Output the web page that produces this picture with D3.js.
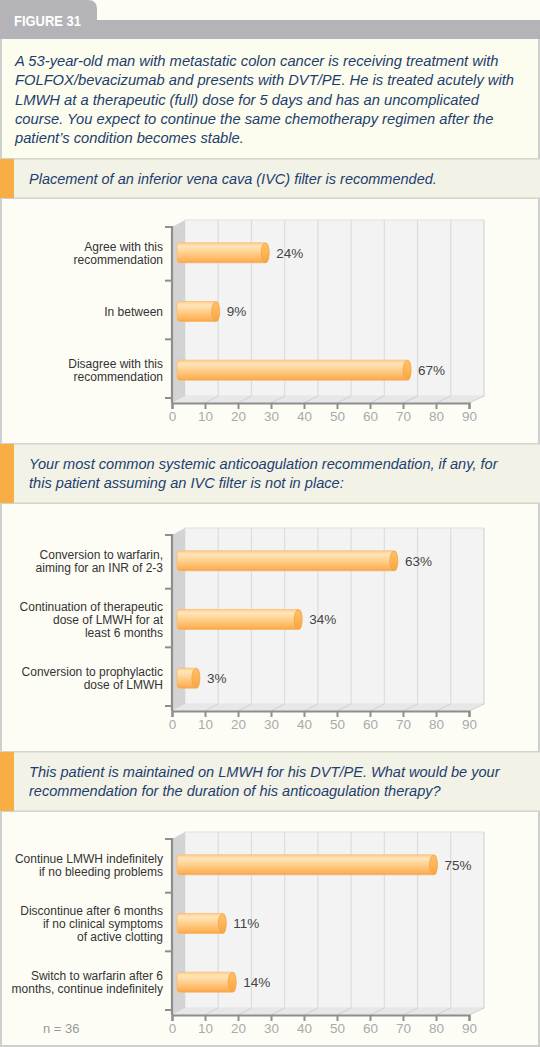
<!DOCTYPE html>
<html><head><meta charset="utf-8">
<script src="https://cdn.jsdelivr.net/npm/d3@7"></script>
<style>
html,body{margin:0;padding:0;background:#fdfdf6;}
svg{display:block;}
</style></head>
<body>
<svg id="c" width="540" height="1047"></svg>
<script>
// ---------- DATA ----------
const figureTitle = "FIGURE 31";
const introLines = [
  "A 53-year-old man with metastatic colon cancer is receiving treatment with",
  "FOLFOX/bevacizumab and presents with DVT/PE. He is treated acutely with",
  "LMWH at a therapeutic (full) dose for 5 days and has an uncomplicated",
  "course. You expect to continue the same chemotherapy regimen after the",
  "patient\u2019s condition becomes stable."
];
const q1Title = ["Placement of an inferior vena cava (IVC) filter is recommended."];
const q1Categories = [["Agree with this","recommendation"],["In between"],["Disagree with this","recommendation"]];
const q1Values = [24, 9, 67];

const q2Title = ["Your most common systemic anticoagulation recommendation, if any, for",
                 "this patient assuming an IVC filter is not in place:"];
const q2Categories = [["Conversion to warfarin,","aiming for an INR of 2-3"],
                      ["Continuation of therapeutic","dose of LMWH for at","least 6 months"],
                      ["Conversion to prophylactic","dose of LMWH"]];
const q2Values = [63, 34, 3];

const q3Title = ["This patient is maintained on LMWH for his DVT/PE. What would be your",
                 "recommendation for the duration of his anticoagulation therapy?"];
const q3Categories = [["Continue LMWH indefinitely","if no bleeding problems"],
                      ["Discontinue after 6 months","if no clinical symptoms","of active clotting"],
                      ["Switch to warfarin after 6","months, continue indefinitely"]];
const q3Values = [75, 11, 14];

const xTicks = [0,10,20,30,40,50,60,70,80,90];
const footnote = "n = 36";

// ---------- DRAW ----------
const svg = d3.select("#c");
const W = 540, H = 1047;
const FONT = "'Liberation Sans', Arial, sans-serif";
const navy = "#1d3e6e";

const defs = svg.append("defs");
const grad = defs.append("linearGradient").attr("id","barGrad").attr("x1",0).attr("y1",0).attr("x2",0).attr("y2",1);
[[0,"#ffcf8a"],[0.18,"#ffe4bc"],[0.38,"#ffd89c"],[0.7,"#ffc072"],[0.9,"#fdb157"],[1,"#f4a244"]].forEach(s=>
  grad.append("stop").attr("offset",s[0]).attr("stop-color",s[1]));
const capGrad = defs.append("linearGradient").attr("id","capGrad").attr("x1",0).attr("y1",0).attr("x2",0).attr("y2",1);
[[0,"#ffc06a"],[0.5,"#ffb455"],[1,"#f6a443"]].forEach(s=>
  capGrad.append("stop").attr("offset",s[0]).attr("stop-color",s[1]));

svg.append("rect").attr("width",W).attr("height",H).attr("fill","#fdfdf6");

// header tab + band
const tabColor = "#b4b4b8";
svg.append("path").attr("d","M0,0 H88 Q97,0 97,9 V20 H0 Z").attr("fill",tabColor);
svg.append("rect").attr("x",0).attr("y",20).attr("width",W).attr("height",19).attr("fill",tabColor);
svg.append("text").attr("x",14).attr("y",25.5).attr("fill","#fff")
  .attr("font-family",FONT).attr("font-weight","bold").attr("font-size",15.5)
  .attr("textLength",67).attr("lengthAdjust","spacingAndGlyphs").text(figureTitle);

// intro box
svg.append("rect").attr("x",0).attr("y",39).attr("width",W).attr("height",119).attr("fill","#fcfcef");
function fitLines(g, lines, x, y0, lh, targetW, fs0){
  const t = g.append("text").attr("font-family",FONT).attr("font-style","italic")
    .attr("font-size",fs0).attr("fill",navy).text(lines[0]);
  const w = t.node().getComputedTextLength();
  t.remove();
  const fs = fs0*targetW/w;
  lines.forEach((l,i)=>g.append("text").attr("x",x).attr("y",y0+i*lh)
    .attr("font-family",FONT).attr("font-style","italic").attr("font-size",fs)
    .attr("fill",navy).text(l));
}
fitLines(svg, introLines, 15, 66, 19.3, 484, 15);

function frame(y0,y1){
  svg.append("rect").attr("x",0).attr("y",y0).attr("width",2).attr("height",y1-y0).attr("fill","#cfcfcf");
  svg.append("rect").attr("x",W-2).attr("y",y0).attr("width",2).attr("height",y1-y0).attr("fill","#cfcfcf");
}
frame(39,1047);
svg.append("rect").attr("x",0).attr("y",1045).attr("width",W).attr("height",2).attr("fill","#cfcfcf");

function banner(y0,h,lines,targetW){
  svg.append("rect").attr("x",0).attr("y",y0).attr("width",W).attr("height",h).attr("fill","#f3f2e7");
  svg.append("rect").attr("x",0).attr("y",y0-1).attr("width",W).attr("height",1.5).attr("fill","#d3d3cc");
  svg.append("rect").attr("x",0).attr("y",y0+h-0.5).attr("width",W).attr("height",1.5).attr("fill","#d3d3cc");
  svg.append("rect").attr("x",0).attr("y",y0).attr("width",14).attr("height",h).attr("fill","#f9ae45");
  const n = lines.length;
  const cy = y0 + h/2;
  fitLines(svg, lines, 29, cy + 5 - (n-1)*19.3/2, 19.3, targetW, 15);
}
banner(159,39,q1Title,408);
banner(444,59,q2Title,469);
banner(752,59,q3Title,471);

function drawChart(cats, values, T, showN){
  const B = T + 176;
  const g = svg.append("g");
  const x = d3.scaleLinear().domain([0,90]).range([172,469]);
  const xb = d3.scaleLinear().domain([0,90]).range([185,484]);
  const dy = -7;
  const y = d3.scaleBand().domain(d3.range(cats.length)).range([T,B]);

  g.append("rect").attr("x",xb(0)).attr("y",T+dy).attr("width",xb(90)-xb(0)).attr("height",B-T)
    .attr("fill","#f3f3f3").attr("stroke","#e2e2e2").attr("stroke-width",1);
  g.selectAll(".bg").data(xTicks.slice(1)).join("line")
    .attr("x1",d=>xb(d)).attr("x2",d=>xb(d)).attr("y1",T+dy).attr("y2",B+dy)
    .attr("stroke","#dcdcdc").attr("stroke-width",1.2);
  g.append("path").attr("d",`M${x(0)},${B} L${x(90)},${B} L${xb(90)},${B+dy} L${xb(0)},${B+dy} Z`)
    .attr("fill","#e7e7e7");
  g.selectAll(".fd").data(xTicks.slice(1)).join("line")
    .attr("x1",d=>x(d)).attr("x2",d=>xb(d)).attr("y1",B).attr("y2",B+dy)
    .attr("stroke","#d0d0d0").attr("stroke-width",1);
  g.append("path").attr("d",`M${x(0)},${T} L${xb(0)},${T+dy} L${xb(0)},${B+dy} L${x(0)},${B} Z`)
    .attr("fill","#d3d3d3");

  const xAxis = d3.axisBottom(x).tickValues(xTicks).tickSize(6).tickFormat(d3.format("d"));
  const ax = g.append("g").attr("transform",`translate(0,${B})`).call(xAxis);
  ax.select(".domain").attr("stroke","#8e8e8e").attr("stroke-width",2.2);
  ax.selectAll(".tick line").attr("stroke","#8e8e8e").attr("stroke-width",2);
  ax.selectAll(".tick text").attr("fill","#aaaaaa").attr("font-family",FONT).attr("font-size",13.5).attr("dy","0.9em").attr("y",6);

  g.append("line").attr("x1",x(0)).attr("x2",x(0)).attr("y1",T-1).attr("y2",B)
    .attr("stroke","#8e8e8e").attr("stroke-width",2.2);
  const bounds = [T].concat(d3.range(1,cats.length+1).map(i=>T+i*y.step()-5));
  g.selectAll(".yt").data(bounds).join("line")
    .attr("x1",x(0)-7).attr("x2",x(0)).attr("y1",d=>d).attr("y2",d=>d)
    .attr("stroke","#8e8e8e").attr("stroke-width",2);

  const barH = 20, shift = 17, startPad = 5;
  values.forEach((v,i)=>{
    const cy = y(i) + y.bandwidth()/2 - 3.5;
    const xs = x(0)+startPad, xe = x(v)+shift;
    g.append("rect").attr("x",xs).attr("y",cy-barH/2).attr("width",xe-xs).attr("height",barH)
      .attr("rx",3).attr("fill","url(#barGrad)").attr("stroke","#fbb45c").attr("stroke-width",0.6);
    g.append("ellipse").attr("cx",xe-3).attr("cy",cy).attr("rx",4).attr("ry",barH/2-0.3)
      .attr("fill","url(#capGrad)").attr("stroke","#f3a445").attr("stroke-width",0.8);
    g.append("text").attr("x",xe+8).attr("y",cy).attr("dy","0.36em")
      .attr("font-family",FONT).attr("font-size",13.5).attr("fill","#444").text(v+"%");
    const lines = cats[i];
    const lh = 13;
    const t = g.append("text").attr("text-anchor","end").attr("font-family",FONT)
      .attr("font-size",12).attr("fill","#333");
    lines.forEach((l,k)=>t.append("tspan").attr("x",x(0)-9)
      .attr("y",cy + 4.2 + (k-(lines.length-1)/2)*lh).text(l));
  });

  if(showN){
    g.append("text").attr("x",43).attr("y",B+18).attr("font-family",FONT).attr("font-size",13)
      .attr("fill","#999").text(footnote);
  }
}
drawChart(q1Categories, q1Values, 227, false);
drawChart(q2Categories, q2Values, 535, false);
drawChart(q3Categories, q3Values, 839, true);
</script>
</body></html>
